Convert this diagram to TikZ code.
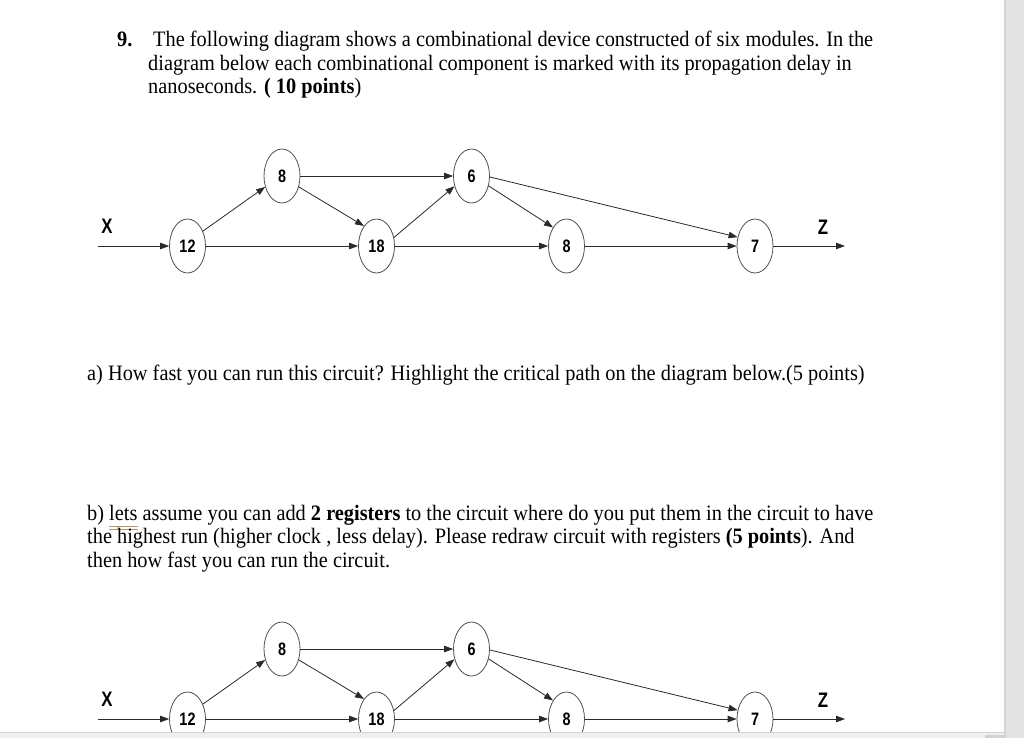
\documentclass[tikz,border=0pt]{standalone}
\usepackage{fontspec}
\setmainfont[FakeStretch=0.925]{Liberation Serif}
\newfontfamily\lblfont[FakeStretch=0.8]{Liberation Sans}
\usetikzlibrary{shapes.geometric,arrows.meta}
\definecolor{linecol}{HTML}{2A2A2A}
\definecolor{ellcol}{HTML}{505050}
\definecolor{gramcol}{HTML}{B8956B}
\definecolor{barline}{HTML}{D4D4D4}
\definecolor{barfill}{HTML}{E4E4E4}
\definecolor{bandfill}{HTML}{EFEFEF}
\definecolor{bandblock}{HTML}{D2D2D2}
\newsavebox\gwbox
\newcommand\gramword[1]{\sbox\gwbox{#1}\rlap{\color{gramcol}\rule[-7.2pt]{\wd\gwbox}{0.8pt}}\rlap{\color{gramcol}\rule[-9.6pt]{\wd\gwbox}{0.8pt}}\usebox\gwbox}
\begin{document}
\begin{tikzpicture}[x=1pt,y=-1pt,
  module/.style={ellipse, draw=ellcol, line width=0.8pt, minimum width=36pt, minimum height=54pt, inner sep=0pt, font=\lblfont\bfseries\fontsize{18}{18}\selectfont},
  wire/.style={draw=linecol, line width=0.8pt, -{Triangle[length=9pt,width=6.5pt]}},
  portlbl/.style={font=\lblfont\bfseries\fontsize{21}{21}\selectfont, inner sep=0pt},
  body/.style={anchor=base west, inner sep=0pt, font=\fontsize{22}{24}\selectfont}]
\useasboundingbox (0,0) rectangle (1024,737);
\fill[white] (0,0) rectangle (1024,737);

% text
\node[body] (t0) at (117,46.5) {\textbf{9.}};
\node[body] (t1) at (153,46.5) {The following diagram shows a combinational device constructed of six modules. In the};
\node[body] (t2) at (148,70) {diagram below each combinational component is marked with its propagation delay in};
\node[body] (t3) at (148,93.5) {nanoseconds. \textbf{( 10 points})};
\node[body] (ta) at (87,380) {a) How fast you can run this circuit? Highlight the critical path on the diagram below.(5 points)};
\node[body] (tb1) at (87,520) {b) \gramword{lets}\ assume you can add \textbf{2 registers} to the circuit where do you put them in the circuit to have};
\node[body] (tb2) at (87,543.5) {the highest run (higher clock , less delay). Please redraw circuit with registers \textbf{(5 points}). And};
\node[body] (tb3) at (87,567) {then how fast you can run the circuit.};

% diagrams
\foreach \oy/\p in {0/a,473/b}{
\begin{scope}[yshift=-\oy pt]
  \node[module] (\p m12) at (187.5,246) {12};
  \node[module] (\p m8a) at (282,176) {8};
  \node[module] (\p m18) at (376.5,246) {18};
  \node[module] (\p m6) at (471.5,176) {6};
  \node[module] (\p m8b) at (566.5,246) {8};
  \node[module] (\p m7) at (755,246) {7};
  \node[portlbl] (\p X) at (107,226) {X};
  \node[portlbl] (\p Z) at (823,227) {Z};
  \coordinate (\p in) at (98,246);
  \coordinate (\p out) at (845,246);
  \draw[wire] (\p in) -- (\p m12.west);
  \draw[wire] (\p m12.44) -- (\p m8a.213);
  \draw[wire] (\p m12.east) -- (\p m18.west);
  \draw[wire] (\p m8a.east) -- (\p m6.west);
  \draw[wire] (\p m8a.327) -- (\p m18.122);
  \draw[wire] (\p m18.26) -- (\p m6.211);
  \draw[wire] (\p m18.east) -- (\p m8b.west);
  \draw[wire] (\p m6.330) -- (\p m8b.126);
  \draw[wire] (\p m6.-3) -- (\p m7.153);
  \draw[wire] (\p m8b.east) -- (\p m7.west);
  \draw[wire] (\p m7.east) -- (\p out);
\end{scope}
}

% window edges
\fill[bandfill] (0,732.5) rectangle (1004,740);
\draw[barline, line width=0.8pt] (0,732.5) -- (1004,732.5);
\fill[bandblock] (985,735) rectangle (1004,740);
\fill[barfill] (1004,-2) rectangle (1026,740);
\fill[barline] (1004,-2) rectangle (1006,740);
\end{tikzpicture}
\end{document}
